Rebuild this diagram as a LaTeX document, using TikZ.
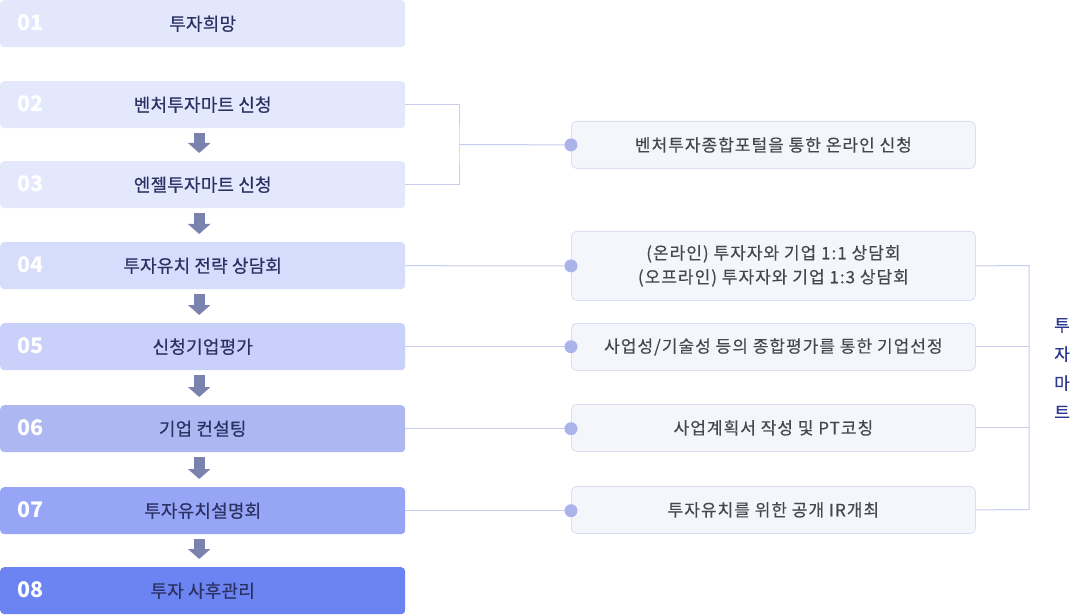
\documentclass[tikz,border=0pt]{standalone}
\usepackage{fontspec}
\setmainfont{Noto Sans CJK KR}
\newfontfamily\labelfont[FakeBold=0.5,LetterSpace=1]{Noto Sans CJK KR}
\newfontfamily\infofont[FakeBold=0.25,LetterSpace=6]{Noto Sans CJK KR}
\usetikzlibrary{arrows.meta}
\definecolor{bA}{HTML}{E2E7FC}
\definecolor{bB}{HTML}{E3E8FC}
\definecolor{bC}{HTML}{D6DCFC}
\definecolor{bD}{HTML}{C9D0FA}
\definecolor{bE}{HTML}{ADB8F3}
\definecolor{bF}{HTML}{97A5F6}
\definecolor{bG}{HTML}{6C83F2}
\definecolor{txtdark}{HTML}{2A3163}
\definecolor{arrc}{HTML}{7A82AE}
\definecolor{rfill}{HTML}{F5F6FC}
\definecolor{rborder}{HTML}{DADEF0}
\definecolor{linec}{HTML}{C6CDF0}
\definecolor{dotc}{HTML}{AAB3EA}
\definecolor{sidetxt}{HTML}{2B3990}
\definecolor{graytxt}{HTML}{45464F}
\tikzset{
  stepbox/.style={anchor=north west, minimum width=405pt, minimum height=47pt, rounded corners=4pt, inner sep=0pt, text=txtdark, font=\labelfont\fontsize{18}{20}\selectfont},
  numtxt/.style={anchor=west, text=white, font=\fontsize{21.5}{23}\selectfont\bfseries, inner sep=0pt},
  infobox/.style={anchor=north west, minimum width=404pt, rounded corners=5pt, inner sep=0pt, fill=rfill, draw=rborder, line width=0.8pt, text=graytxt, align=center, font=\infofont\fontsize{17}{24}\selectfont},
  conn/.style={draw=linec, line width=1pt},
  flowarrow/.style={draw=arrc, line width=11pt, -{Triangle[width=22pt,length=10pt]}, shorten <=5pt, shorten >=8pt},
  dot/.style={fill=dotc}
}
\begin{document}
\begin{tikzpicture}[x=1pt,y=-1pt]
\useasboundingbox (0,0) rectangle (1072,615);
\clip (0,0) rectangle (1072,615);
% left step boxes
\node[stepbox, fill=bA] (b01) at (0,0) {투자희망};
\node[stepbox, fill=bB] (b02) at (0,81) {벤처투자마트 신청};
\node[stepbox, fill=bB] (b03) at (0,161) {엔젤투자마트 신청};
\node[stepbox, fill=bC] (b04) at (0,242) {투자유치 전략 상담회};
\node[stepbox, fill=bD] (b05) at (0,323) {신청기업평가};
\node[stepbox, fill=bE] (b06) at (0,405) {기업 컨설팅};
\node[stepbox, fill=bF] (b07) at (0,487) {투자유치설명회};
\node[stepbox, fill=bG] (b08) at (0,567) {투자 사후관리};
% numbers
\node[numtxt] (n01) at (17,22.5) {01};
\node[numtxt] (n02) at (17,103.5) {02};
\node[numtxt] (n03) at (17,183.5) {03};
\node[numtxt] (n04) at (17,264.5) {04};
\node[numtxt] (n05) at (17,345.5) {05};
\node[numtxt] (n06) at (17,427.5) {06};
\node[numtxt] (n07) at (17,509.5) {07};
\node[numtxt] (n08) at (17,589.5) {08};
% flow arrows
\draw[flowarrow] ([xshift=-3.5pt]b02.south) -- ([xshift=-3.5pt]b03.north);
\draw[flowarrow] ([xshift=-3.5pt]b03.south) -- ([xshift=-3.5pt]b04.north);
\draw[flowarrow] ([xshift=-3.5pt]b04.south) -- ([xshift=-3.5pt]b05.north);
\draw[flowarrow] ([xshift=-3.5pt]b05.south) -- ([xshift=-3.5pt]b06.north);
\draw[flowarrow] ([xshift=-3.5pt]b06.south) -- ([xshift=-3.5pt]b07.north);
\draw[flowarrow] ([xshift=-3.5pt]b07.south) -- ([xshift=-3.5pt]b08.north);
% right info boxes
\node[infobox, minimum height=47pt] (rA) at (571,121) {벤처투자종합포털을 통한 온라인 신청};
\node[infobox, minimum height=69pt] (rB) at (571,231) {(온라인) 투자자와 기업 1:1 상담회\\(오프라인) 투자자와 기업 1:3 상담회};
\node[infobox, minimum height=47pt] (rC) at (571,323) {사업성/기술성 등의 종합평가를 통한 기업선정};
\node[infobox, minimum height=47pt] (rD) at (571,404) {사업계획서 작성 및 PT코칭};
\node[infobox, minimum height=47pt] (rE) at (571,486) {투자유치를 위한 공개 IR개최};
% left connectors
\coordinate (j1) at (459,144.5);
\draw[conn] (b02.east) -| (j1) |- (b03.east);
\draw[conn] (j1) -- (rA.west);
\coordinate (dB) at (rB.west);
\coordinate (dC) at (b05.east -| rC.west);
\coordinate (dD) at (b06.east -| rD.west);
\coordinate (dE) at (b07.east -| rE.west);
\draw[conn] (b04.east) -- (dB);
\draw[conn] (b05.east) -- (dC);
\draw[conn] (b06.east) -- (dD);
\draw[conn] (b07.east) -- (dE);
% dots
\fill[dot] (rA.west) circle (6.5);
\fill[dot] (dB) circle (6.5);
\fill[dot] (dC) circle (6.5);
\fill[dot] (dD) circle (6.5);
\fill[dot] (dE) circle (6.5);
% right bracket
\coordinate (j2) at (1029,265.5);
\coordinate (j3) at (1029,509.5);
\draw[conn] (rB.east) -- (j2) -- (j3) -- (rE.east);
\draw[conn] (rC.east) -- (rC.east -| j2);
\draw[conn] (rD.east) -- (rD.east -| j2);
% side label (clipped at right edge)
\node[anchor=north west, inner sep=0pt, text=sidetxt, align=left, font=\labelfont\fontsize{17}{29}\selectfont] (side) at (1054,318) {투\\자\\마\\트};
\end{tikzpicture}
\end{document}
